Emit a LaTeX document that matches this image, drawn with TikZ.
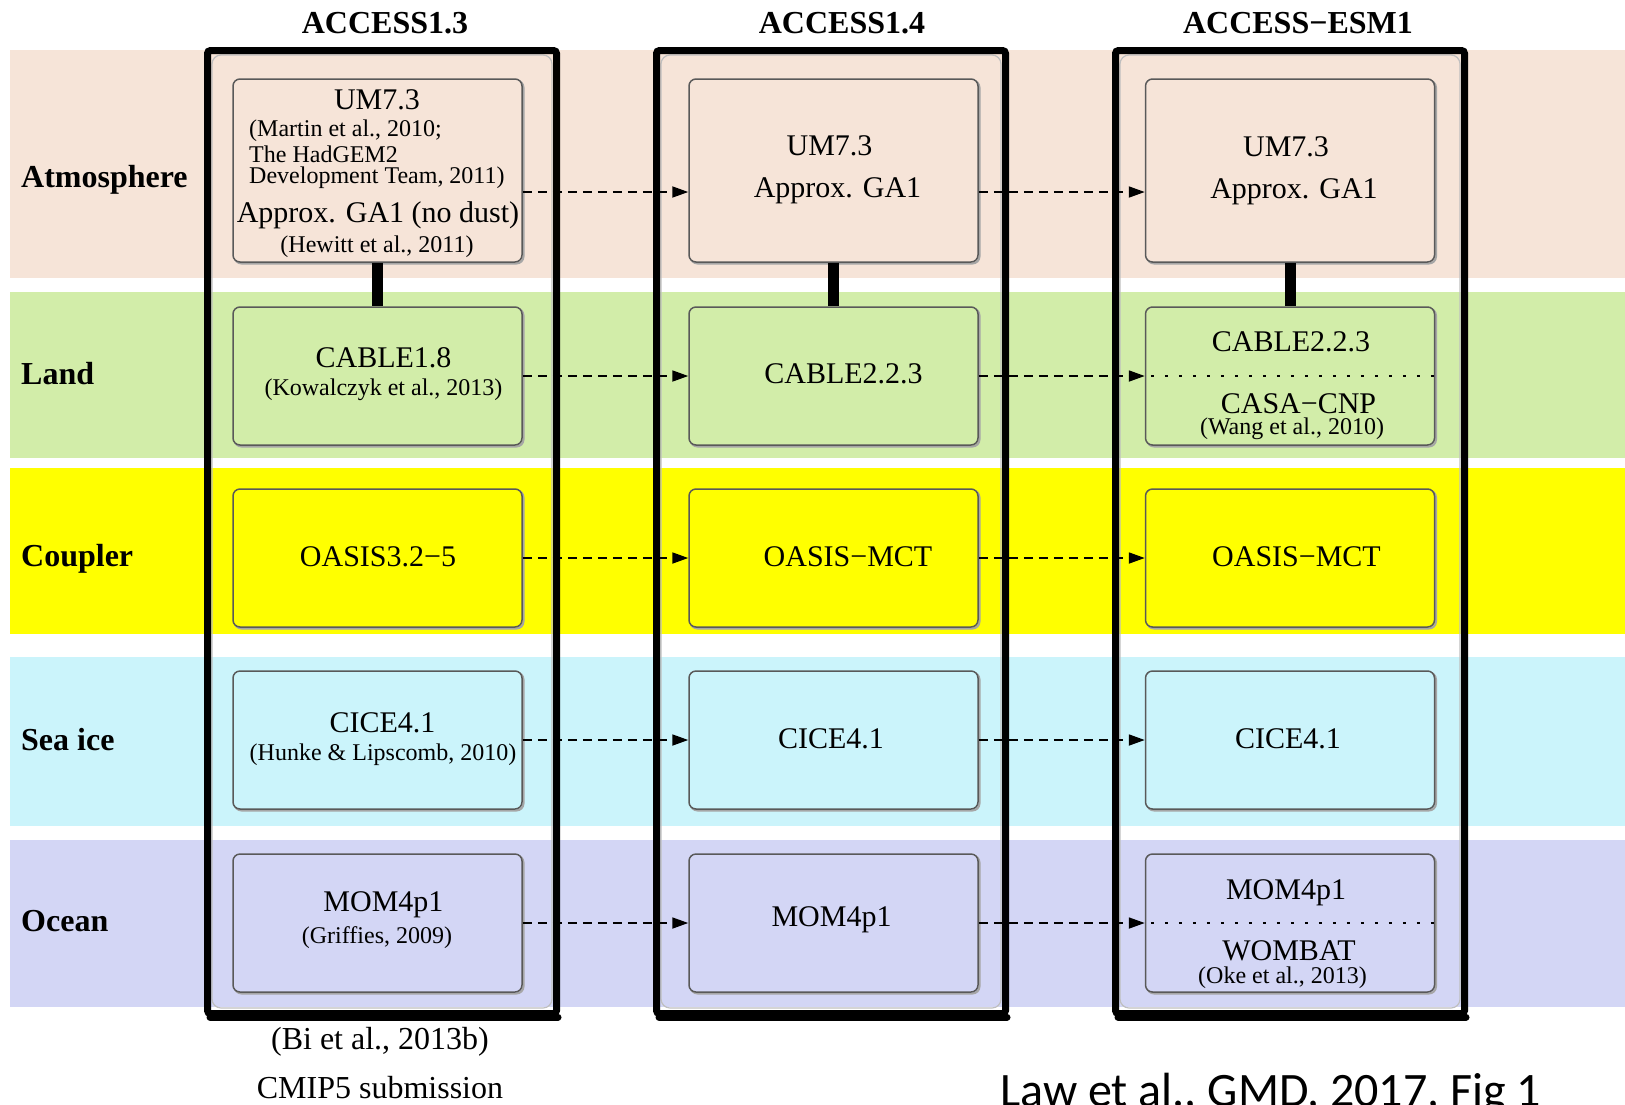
\documentclass[tikz,border=0pt]{standalone}
\usepackage{fontspec}
\setmainfont{Liberation Serif}
\newfontfamily\capfont{Carlito}
\usetikzlibrary{arrows.meta,shadows}
\definecolor{atmcol}{HTML}{F6E4D8}
\definecolor{landcol}{HTML}{D2EDA9}
\definecolor{cplcol}{HTML}{FFFF00}
\definecolor{icecol}{HTML}{CBF4FB}
\definecolor{ocncol}{HTML}{D3D6F5}
\tikzset{
  colbox/.style={draw=black, line width=7pt, rounded corners=3pt},
  colinner/.style={draw=black!25, line width=1.2pt, rounded corners=9pt},
  modbox/.style={draw=black!65, line width=1.5pt, rounded corners=7pt,
    minimum width=289pt, inner sep=0pt,
    drop shadow={shadow xshift=1.5pt, shadow yshift=-1.5pt, fill=none, draw=black!35, line width=2pt, opacity=1}},
  ttl/.style={font=\fontsize{32}{36}\selectfont\bfseries, inner sep=0pt},
  rowlab/.style={font=\fontsize{32}{36}\selectfont\bfseries, anchor=west, inner sep=0pt},
  big/.style={font=\fontsize{30}{34}\selectfont, inner sep=0pt},
  small/.style={font=\fontsize{24}{26}\selectfont, inner sep=0pt},
  flow/.style={line width=1.8pt, dash pattern=on 9pt off 6pt, -{Triangle[length=16pt,width=11pt]}},
  sepline/.style={line width=1.8pt, dash pattern=on 3pt off 11pt},
  link/.style={line width=11pt},
}
\begin{document}
\begin{tikzpicture}[x=1pt,y=-1pt]
\useasboundingbox (0,0) rectangle (1625,1104);
\clip (0,0) rectangle (1625,1104);
% bands
\fill[atmcol] (10,50) rectangle (1625,278);
\fill[landcol] (10,292) rectangle (1625,458);
\fill[cplcol] (10,468) rectangle (1625,634);
\fill[icecol] (10,657) rectangle (1625,826);
\fill[ocncol] (10,840) rectangle (1625,1007);
% column boxes
\foreach \cx in {382,831,1290}{
  \draw[colinner] (\cx-170,55) rectangle (\cx+170,1008);
  \draw[line width=7pt, line cap=round] (\cx-172,1017) -- (\cx+176,1017);
  \draw[colbox] (\cx-174.5,50.5) rectangle (\cx+174.5,1013.5);
}
% titles
\node[ttl] (t1) at (385,23) {ACCESS1.3};
\node[ttl] (t2) at (842,23) {ACCESS1.4};
\node[ttl] (t3) at (1298,23) {ACCESS−ESM1};
% row labels
\node[rowlab] (ratm) at (21,180) {Atmosphere};
\node[rowlab] (rland) at (21,374) {Land};
\node[rowlab] (rcpl) at (21,559) {Coupler};
\node[rowlab] (rice) at (21,740) {Sea ice};
\node[rowlab] (rocn) at (21,921) {Ocean};
% model boxes
\foreach \c/\cx in {1/377.5,2/833.5,3/1290}{
  \node[modbox, fill=atmcol, minimum height=183pt] (a\c) at (\cx,170.5) {};
  \node[modbox, fill=landcol, minimum height=138pt] (l\c) at (\cx,376) {};
  \node[modbox, fill=cplcol, minimum height=138pt] (c\c) at (\cx,558) {};
  \node[modbox, fill=icecol, minimum height=138pt] (s\c) at (\cx,740) {};
  \node[modbox, fill=ocncol, minimum height=138pt] (o\c) at (\cx,923) {};
}
% thick links
\foreach \c in {1,2,3}{
  \draw[link] (a\c.south) -- (l\c.north);
}
% flows
\coordinate (arow) at (0,192);
\draw[flow] (a1.east |- arow) -- (a2.west |- arow);
\draw[flow] (a2.east |- arow) -- (a3.west |- arow);
\foreach \r in {l,c,s,o}{
  \draw[flow] (\r1.east) -- (\r2.west);
  \draw[flow] (\r2.east) -- (\r3.west);
}
\draw[sepline] ([xshift=6pt]l3.west) -- (l3.east);
\draw[sepline] ([xshift=6pt]o3.west) -- (o3.east);
% texts column 1
\node[big] (a1t1) at (377,100) {UM7.3};
\node[small, anchor=west] (a1t2) at (249,131) {(Martin et al., 2010;};
\node[small, anchor=west] (a1t3) at (249,154) {The HadGEM2};
\node[small, anchor=west] (a1t4) at (249,178) {Development Team, 2011)};
\node[big] (a1t5) at (378,215) {Approx. GA1 (no dust)};
\node[small] (a1t6) at (377,247) {(Hewitt et al., 2011)};
\node[big] (l1t1) at (383.5,358) {CABLE1.8};
\node[small] (l1t2) at (383.5,390) {(Kowalczyk et al., 2013)};
\node[big] (c1t1) at (378,557) {OASIS3.2−5};
\node[big] (s1t1) at (382.5,723) {CICE4.1};
\node[small] (s1t2) at (383,755) {(Hunke \& Lipscomb, 2010)};
\node[big] (o1t1) at (383.5,905) {MOM4p1};
\node[small] (o1t2) at (377,938) {(Griffies, 2009)};
% texts column 2
\node[big] (a2t1) at (829.5,146) {UM7.3};
\node[big] (a2t2) at (837.5,191) {Approx. GA1};
\node[big] (l2t1) at (843.5,374) {CABLE2.2.3};
\node[big] (c2t1) at (848,557) {OASIS−MCT};
\node[big] (s2t1) at (831,739) {CICE4.1};
\node[big] (o2t1) at (831.5,920) {MOM4p1};
% texts column 3
\node[big] (a3t1) at (1286,147) {UM7.3};
\node[big] (a3t2) at (1294,192) {Approx. GA1};
\node[big] (l3t1) at (1291,342) {CABLE2.2.3};
\node[big] (l3t2) at (1298.5,404) {CASA−CNP};
\node[small] (l3t3) at (1292,429) {(Wang et al., 2010)};
\node[big] (c3t1) at (1296.5,557) {OASIS−MCT};
\node[big] (s3t1) at (1288,739) {CICE4.1};
\node[big] (o3t1) at (1286,893) {MOM4p1};
\node[big] (o3t2) at (1289,951) {WOMBAT};
\node[small] (o3t3) at (1282.5,978) {(Oke et al., 2013)};
% bottom
\node[font=\fontsize{32}{36}\selectfont, inner sep=0pt] (bi) at (380,1042) {(Bi et al., 2013b)};
\node[font=\fontsize{32}{36}\selectfont, inner sep=0pt] (cmip) at (380,1088) {CMIP5 submission};
\node[font=\capfont\fontsize{48}{56}\selectfont, inner sep=0pt, anchor=base west] (law) at (1000,1106) {Law et al., GMD, 2017, Fig 1};
\end{tikzpicture}
\end{document}
